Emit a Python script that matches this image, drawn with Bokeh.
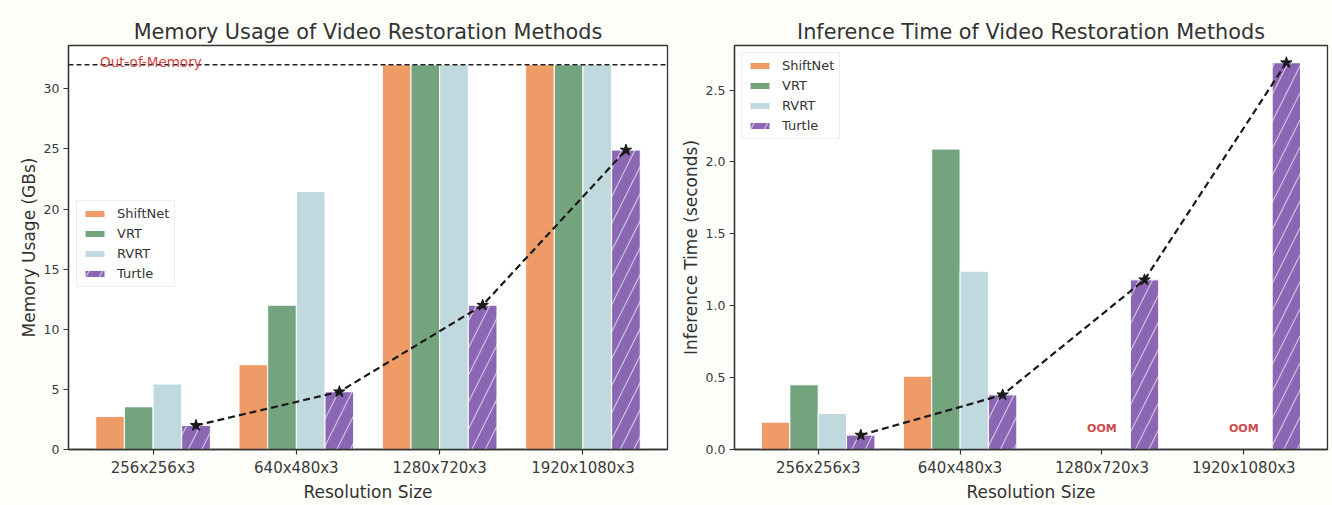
import numpy as np
from bokeh.plotting import figure
from bokeh.layouts import row
from bokeh.models import (Range1d, FixedTicker, Legend, LegendItem, Span, Label,
                          ColumnDataSource, PrintfTickFormatter)
from bokeh.transform import dodge
from bokeh.core.properties import value
from bokeh.embed import file_html
from bokeh.resources import INLINE

# ---------------- data ----------------
categories = ["256x256x3", "640x480x3", "1280x720x3", "1920x1080x3"]
methods = ["ShiftNet", "VRT", "RVRT", "Turtle"]

mem_shiftnet = [2.75, 7.05, 32, 32]
mem_vrt = [3.55, 12.0, 32, 32]
mem_rvrt = [5.45, 21.45, 32, 32]
mem_turtle = [2.0, 4.8, 12.0, 24.9]
oom_memory = 32

time_shiftnet = [0.19, 0.51, None, None]
time_vrt = [0.45, 2.09, None, None]
time_rvrt = [0.25, 1.24, None, None]
time_turtle = [0.10, 0.38, 1.18, 2.69]
oom_label_pos = [2, 3]
oom_label_y = [0.145, 0.145]
oom_label_text = ["OOM", "OOM"]

colors = ["#EF9B67", "#74A47E", "#BFD9DE", "#8B66B3"]
offsets = [-0.3, -0.1, 0.1, 0.3]

FONT = "DejaVu Sans"
TXT = "#333333"
BG = "#fefefa"


def nan(v):
    return [np.nan if x is None else x for x in v]


def style(p):
    p.background_fill_color = "white"
    p.border_fill_color = BG
    p.outline_line_color = "#333333"
    p.outline_line_width = 1.3
    p.xgrid.visible = False
    p.ygrid.visible = False
    for ax in (p.xaxis, p.yaxis):
        ax.axis_line_color = "#333333"
        ax.axis_line_width = 1.3
        ax.major_tick_line_color = "#333333"
        ax.major_tick_line_width = 1.2
        ax.major_tick_out = 5
        ax.major_tick_in = 0
        ax.minor_tick_line_color = None
        ax.major_label_text_font = FONT
        ax.major_label_text_color = "#3a3a3a"
        ax.axis_label_text_font = FONT
        ax.axis_label_text_font_style = "normal"
        ax.axis_label_text_font_size = "17px"
        ax.axis_label_text_color = TXT
    p.xaxis.major_label_text_font_size = "15px"
    p.yaxis.major_label_text_font_size = "12.5px"
    p.xaxis.major_label_standoff = 4
    p.yaxis.major_label_standoff = 4
    p.xaxis.axis_label_standoff = 2
    p.yaxis.axis_label_standoff = 2
    p.xaxis.ticker = FixedTicker(ticks=list(range(len(categories))))
    p.xaxis.major_label_overrides = {i: c for i, c in enumerate(categories)}
    p.xaxis.axis_label = "Resolution Size"
    p.title.text_font = FONT
    p.title.text_font_size = "20.8px"
    p.title.text_font_style = "normal"
    p.title.text_color = TXT
    p.title.align = "center"
    p.title.standoff = 3


def bars(p, source, keys):
    rs = []
    for k, c, off in zip(keys, colors, offsets):
        kw = dict(x=dodge("x", off, range=p.x_range), top=k, width=0.2,
                  source=source, fill_color=c, line_color="white", line_width=1)
        if k.endswith("turtle"):
            kw.update(hatch_pattern="/", hatch_color="white", hatch_alpha=0.6,
                      hatch_scale=27, hatch_weight=1.2)
        rs.append(p.vbar(**kw))
    return rs


def legend(p, rs, **loc):
    lg = Legend(items=[LegendItem(label=m, renderers=[r]) for m, r in zip(methods, rs)],
                **loc)
    lg.label_text_font = FONT
    lg.label_text_font_size = "13px"
    lg.label_text_color = TXT
    lg.glyph_width = 25
    lg.glyph_height = 9
    lg.label_height = 14
    lg.label_standoff = 10
    lg.spacing = 5
    lg.padding = 5
    lg.border_line_color = "#dcdcdc"
    lg.border_line_width = 1
    lg.background_fill_color = "white"
    lg.background_fill_alpha = 0.85
    p.add_layout(lg)


# ---------------- left: memory ----------------
src1 = ColumnDataSource(dict(x=list(range(len(categories))), m_shiftnet=mem_shiftnet,
                             m_vrt=mem_vrt, m_rvrt=mem_rvrt, m_turtle=mem_turtle))
p1 = figure(width=677, height=505, x_range=Range1d(-0.59, 3.59), y_range=Range1d(0, 33.6),
            output_backend="svg", toolbar_location=None,
            title="Memory Usage of Video Restoration Methods",
            min_border_left=68, min_border_right=10, min_border_top=45, min_border_bottom=56)
style(p1)
p1.yaxis.ticker = FixedTicker(ticks=[0, 5, 10, 15, 20, 25, 30])
p1.yaxis.axis_label = "Memory Usage (GBs)"
rs1 = bars(p1, src1, ["m_shiftnet", "m_vrt", "m_rvrt", "m_turtle"])
p1.line(x=dodge("x", 0.3, range=p1.x_range), y="m_turtle", source=src1,
        line_color="#1a1a1a", line_width=2.2, line_dash="7 4")
p1.scatter(x=dodge("x", 0.3, range=p1.x_range), y="m_turtle", source=src1, marker="star",
           size=12, fill_color="#1a1a1a", line_color="#1a1a1a")
p1.add_layout(Span(location=oom_memory, dimension="width", line_color="#222222",
                   line_width=1.3, line_dash="5 3"))
p1.add_layout(Label(x=-0.37, y=oom_memory, y_offset=3, text="Out-of-Memory",
                    text_font=FONT, text_font_size="13.5px", text_color="#d64541",
                    text_baseline="alphabetic"))
legend(p1, rs1, location=(8, 162))

# ---------------- right: time ----------------
src2 = ColumnDataSource(dict(x=list(range(len(categories))), t_shiftnet=nan(time_shiftnet),
                             t_vrt=nan(time_vrt), t_rvrt=nan(time_rvrt), t_turtle=time_turtle))
p2 = figure(width=655, height=505, x_range=Range1d(-0.59, 3.59), y_range=Range1d(0, 2.81),
            output_backend="svg", toolbar_location=None,
            title="Inference Time of Video Restoration Methods",
            min_border_left=53, min_border_right=5, min_border_top=45, min_border_bottom=56)
style(p2)
p2.yaxis.ticker = FixedTicker(ticks=[0, 0.5, 1.0, 1.5, 2.0, 2.5])
p2.yaxis.formatter = PrintfTickFormatter(format="%.1f")
p2.yaxis.axis_label = "Inference Time (seconds)"
rs2 = bars(p2, src2, ["t_shiftnet", "t_vrt", "t_rvrt", "t_turtle"])
p2.line(x=dodge("x", 0.3, range=p2.x_range), y="t_turtle", source=src2,
        line_color="#1a1a1a", line_width=2.2, line_dash="7 4")
p2.scatter(x=dodge("x", 0.3, range=p2.x_range), y="t_turtle", source=src2, marker="star",
           size=12, fill_color="#1a1a1a", line_color="#1a1a1a")
p2.text(x=oom_label_pos, y=oom_label_y, text=oom_label_text, text_font=value(FONT),
        text_font_size="11px", text_font_style="bold", text_color="#cc4a4a",
        text_align="center", text_baseline="middle")
legend(p2, rs2, location="top_left")
p2.legend.margin = 7

layout = row(p1, p2)
open("out.html", "w").write(file_html(layout, INLINE))
